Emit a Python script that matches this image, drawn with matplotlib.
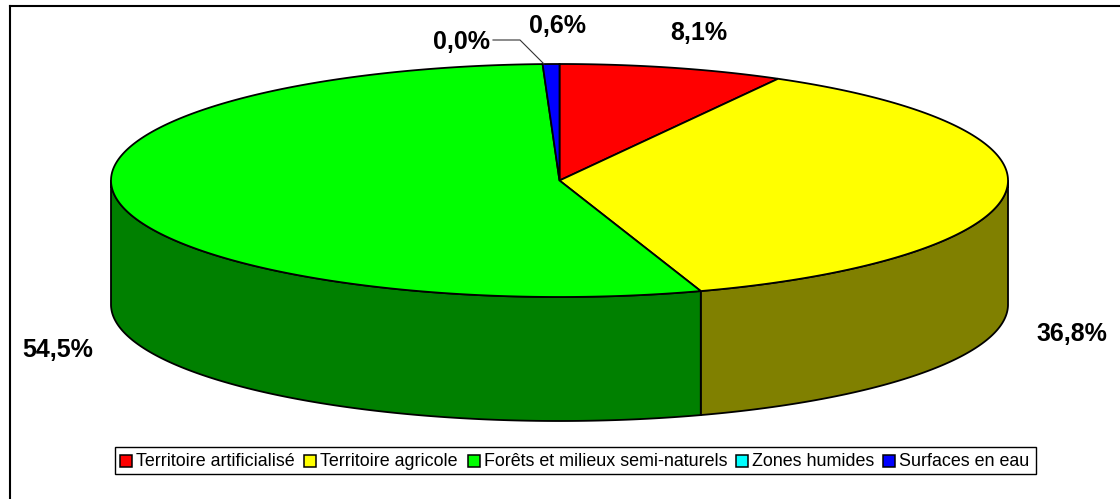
import numpy as np
import matplotlib
matplotlib.use("Agg")
import matplotlib.pyplot as plt
from matplotlib.patches import Polygon, Rectangle

# Data
labels = ["Territoire artificialisé", "Territoire agricole",
          "Forêts et milieux semi-naturels", "Zones humides", "Surfaces en eau"]
values = [8.1, 36.8, 54.5, 0.0, 0.6]
value_labels = ["8,1%", "36,8%", "54,5%", "0,0%", "0,6%"]
colors = ["#ff0000", "#ffff00", "#00ff00", "#00ffff", "#0000ff"]
side_colors = ["#800000", "#808000", "#008000", "#008080", "#000080"]

label_pos = [(699, 33), (1072, 334), (58, 350), (462, 42), (557, 26)]
legend_x = [120, 304, 468, 736, 883]
legend_text_x = [136, 320.5, 484, 752, 899]

# pie geometry in pixels
cx, cy = 559.5, 180.5
rx, ry = 448.5, 116.5
depth = 124


def rim(a0, a1, dy=0):
    t = np.radians(np.linspace(a0, a1, 300))
    return np.column_stack([cx + rx * np.sin(t), cy + dy - ry * np.cos(t)])


plt.rcParams['font.family'] = ['Liberation Sans', 'DejaVu Sans']

fig = plt.figure(figsize=(11.2, 4.99), dpi=100)
ax = fig.add_axes([0, 0, 1, 1])
ax.set_xlim(0, 1120)
ax.set_ylim(499, 0)
ax.axis('off')

# Chart frame, only top and left are in the picture
ax.plot([10, 10], [499, 6], color='black', lw=1.5, solid_capstyle='projecting')
ax.plot([10, 1120], [6, 6], color='black', lw=1.5, solid_capstyle='projecting')

# Slice angles, clockwise from 12 o'clock
edges = np.cumsum([0] + values) * 3.6

# Front wall
for i in range(len(values)):
    a0 = max(edges[i], 90)
    a1 = min(edges[i + 1], 270)
    if a1 <= a0:
        continue
    pts = np.vstack([rim(a0, a1), rim(a1, a0, depth)])
    ax.add_patch(Polygon(pts, fc=side_colors[i], ec='black', lw=1.3))

# Top face
for i in range(len(values)):
    if values[i] == 0:
        continue
    pts = np.vstack([[(cx, cy)], rim(edges[i], edges[i + 1])])
    ax.add_patch(Polygon(pts, fc=colors[i], ec='black', lw=1.3))

# Value labels
for txt, (x, y) in zip(value_labels, label_pos):
    ax.text(x, y, txt, ha='center', va='center', fontsize=18, fontweight='bold', color='black')

# Leader line for 0,0%
ax.plot([493, 520, 544], [40, 40, 64], color='#333333', lw=0.8)

# Legend
ax.add_patch(Rectangle((115, 447), 921, 27, fc='white', ec='black', lw=1.0))
for i in range(len(labels)):
    ax.add_patch(Rectangle((legend_x[i], 455), 12, 12, fc=colors[i], ec='black', lw=1.1))
    ax.text(legend_text_x[i], 461, labels[i], ha='left', va='center', fontsize=12.9, color='black')

fig.savefig("out.png", dpi=100)
